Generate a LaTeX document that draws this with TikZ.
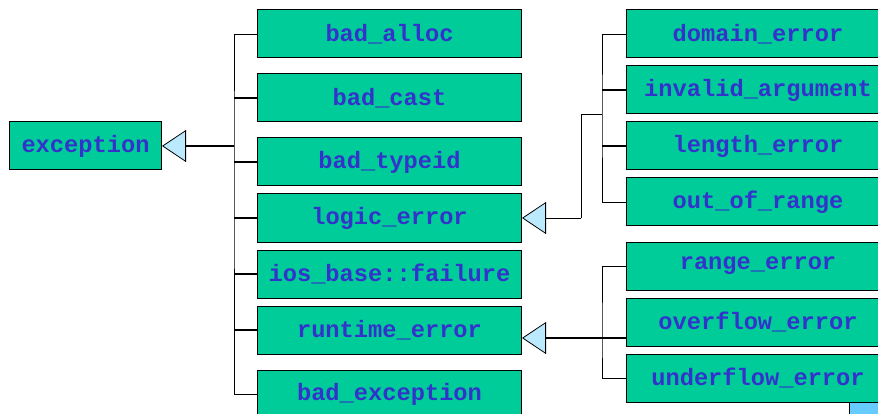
\documentclass[tikz,border=0pt]{standalone}
\usepackage{fontspec}
\usetikzlibrary{arrows.meta}
\newfontfamily\classfont{Liberation Mono}
\definecolor{boxgreen}{HTML}{00CC99}
\definecolor{nameblue}{HTML}{3333CC}
\definecolor{tipblue}{HTML}{BBEAFF}
\definecolor{cornerblue}{HTML}{66CCFF}
\begin{document}
\begin{tikzpicture}[x=1pt, y=-1pt,
    cls/.style={draw=black, line width=1pt, fill=boxgreen, text=nameblue,
        font=\classfont\bfseries\fontsize{23.7}{24}\selectfont,
        minimum width=264pt, minimum height=48pt, inner sep=0pt},
    inherit/.style={line width=1.6pt, -{Triangle[open, length=24pt, width=32pt, line width=0.8pt, fill=tipblue]}},
    branch/.style={line width=1.6pt},
    elbow/.style={line width=0.9pt}]
    \useasboundingbox (0, 0) rectangle (878, 414);
    % base class
    \node[cls, minimum width=152pt] (exception) at (85.5, 146) {exception};
    % first level
    \node[cls] (bad_alloc) at (389.5, 34) {bad\_alloc};
    \node[cls] (bad_cast) at (389.5, 98) {bad\_cast};
    \node[cls] (bad_typeid) at (389.5, 162) {bad\_typeid};
    \node[cls] (logic_error) at (389.5, 218) {logic\_error};
    \node[cls] (ios_failure) at (389.5, 274) {ios\_base::failure};
    \node[cls] (runtime_error) at (389.5, 330) {runtime\_error};
    \node[cls] (bad_exception) at (389.5, 394) {bad\_exception};
    % second level
    \node[cls] (domain_error) at (758, 34) {domain\_error};
    \node[cls] (invalid_argument) at (758, 90) {invalid\_argument};
    \node[cls] (length_error) at (758, 146) {length\_error};
    \node[cls] (out_of_range) at (758, 202) {out\_of\_range};
    \node[cls] (range_error) at (758, 266) {range\_error};
    \node[cls] (overflow_error) at (758, 322) {overflow\_error};
    \node[cls] (underflow_error) at (758, 378) {underflow\_error};
    \node[draw=black, line width=1pt, fill=cornerblue, minimum width=60pt, minimum height=30pt, inner sep=0pt] (corner) at (879, 417) {};
    % exception tree
    \coordinate (trunk) at (234, 146);
    \draw[inherit] (trunk) -- (exception.east);
    \draw[elbow] (bad_alloc.west) -| (trunk) |- (bad_exception.west);
    \foreach \n in {bad_cast, bad_typeid, logic_error, ios_failure, runtime_error}
        \draw[branch] (\n.west) -- (\n.west -| trunk);
    % logic_error tree
    \coordinate (logicjoin) at (581, 218);
    \coordinate (logictrunk) at (602, 114);
    \draw[inherit, line width=0.9pt] (logicjoin) -- (logic_error.east);
    \draw[elbow] (logicjoin) |- (logictrunk);
    \draw[elbow] (domain_error.west) -| (logictrunk) |- (out_of_range.west);
    \foreach \n in {invalid_argument, length_error}
        \draw[branch] (\n.west) -- (\n.west -| logictrunk);
    % runtime_error tree
    \coordinate (runtimetip) at (522, 338);
    \coordinate (runtimeend) at (626, 338);
    \coordinate (runtimetrunk) at (602, 338);
    \draw[inherit] (runtimeend) -- (runtimetip);
    \draw[elbow] (range_error.west) -| (runtimetrunk) |- (underflow_error.west);
\end{tikzpicture}
\end{document}
